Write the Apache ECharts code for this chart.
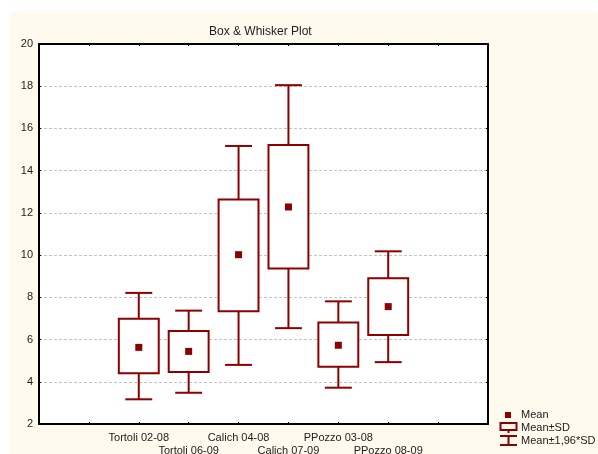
<!DOCTYPE html>
<html>
<head>
<meta charset="utf-8">
<script src="https://cdn.jsdelivr.net/npm/echarts@6/dist/echarts.min.js"></script>
<style>
  html, body { margin: 0; padding: 0; background: #ffffff; }
  #bg { position: absolute; left: 10px; top: 12px; width: 588px; height: 442px; background: #FFF9EE; }
  #chart { position: absolute; left: 0; top: 0; width: 598px; height: 454px; }
</style>
</head>
<body>
<div id="bg"></div>
<div id="chart"></div>
<script>
// ---- data ----
const categories = ['Tortoli 02-08', 'Tortoli 06-09', 'Calich 04-08', 'Calich 07-09', 'PPozzo 03-08', 'PPozzo 08-09'];
const means       = [5.63, 5.44, 10.02, 12.28, 5.73, 7.56];
const boxLow      = [4.40, 4.46, 7.34, 9.36, 4.71, 6.22];   // Mean - SD
const boxHigh     = [6.98, 6.41, 12.63, 15.21, 6.81, 8.90]; // Mean + SD
const whiskerLow  = [3.17, 3.48, 4.80, 6.54, 3.72, 4.93];   // Mean - 1.96*SD
const whiskerHigh = [8.21, 7.37, 15.17, 18.05, 7.81, 10.18];// Mean + 1.96*SD
const yTicks = [2, 4, 6, 8, 10, 12, 14, 16, 18, 20];
const titleText = 'Box & Whisker Plot';
const legendLabels = ['Mean', 'Mean±SD', 'Mean±1,96*SD'];

// axis slots: two empty slots before, two after (ticks at each slot)
const slots = ['', ''].concat(categories, ['', '']);
const offset = 2;

const COLOR = '#8B0000';
const FONT = 'Liberation Sans, Arial, sans-serif';

const boxData = categories.map((c, i) => [i + offset, whiskerLow[i], boxLow[i], means[i], boxHigh[i], whiskerHigh[i]]);
const meanData = categories.map((c, i) => [i + offset, means[i]]);

const chart = echarts.init(document.getElementById('chart'), null, { renderer: 'canvas' });

function renderBox(params, api) {
  const x = api.value(0);
  const wl = api.coord([x, api.value(1)]);
  const bl = api.coord([x, api.value(2)]);
  const bh = api.coord([x, api.value(4)]);
  const wh = api.coord([x, api.value(5)]);
  const slot = api.size([1, 0])[0];
  const bw = slot * 0.8;
  const cw = slot * 0.54;
  const cx = wl[0];
  const style = { stroke: COLOR, lineWidth: 2, fill: null };
  return {
    type: 'group',
    children: [
      { type: 'line', shape: { x1: cx, y1: wh[1], x2: cx, y2: bh[1] }, style: style },
      { type: 'line', shape: { x1: cx, y1: bl[1], x2: cx, y2: wl[1] }, style: style },
      { type: 'line', shape: { x1: cx - cw / 2, y1: wh[1], x2: cx + cw / 2, y2: wh[1] }, style: style },
      { type: 'line', shape: { x1: cx - cw / 2, y1: wl[1], x2: cx + cw / 2, y2: wl[1] }, style: style },
      { type: 'rect', shape: { x: cx - bw / 2, y: bh[1], width: bw, height: bl[1] - bh[1] },
        style: { stroke: COLOR, lineWidth: 2, fill: '#ffffff' } }
    ]
  };
}

const option = {
  backgroundColor: 'transparent',
  animation: false,
  title: {
    text: titleText,
    left: 204, top: 21,
    textStyle: { fontSize: 12, fontWeight: 'normal', color: '#222', fontFamily: FONT }
  },
  grid: {
    left: 39, right: 110, top: 44, bottom: 30,
    outerBoundsMode: 'none', containLabel: false,
    show: true, backgroundColor: '#ffffff', borderWidth: 0
  },
  xAxis: [{
    type: 'category',
    data: slots,
    boundaryGap: false,
    position: 'bottom',
    axisLine: { show: true, lineStyle: { color: '#000', width: 2 } },
    axisTick: { show: true, inside: true, length: 2, interval: 0, lineStyle: { color: '#000' } },
    axisLabel: {
      interval: 0, margin: 7, fontSize: 11, color: '#222', fontFamily: FONT, lineHeight: 13,
      formatter: function (v, idx) {
        if (!v) return '';
        return ((idx - offset) % 2 === 1) ? '\n' + v : v;
      }
    },
    splitLine: { show: false }
  }, {
    type: 'category',
    data: slots,
    boundaryGap: false,
    position: 'top',
    axisLine: { show: true, lineStyle: { color: '#000', width: 2 } },
    axisTick: { show: true, inside: true, length: 2, interval: 0, lineStyle: { color: '#000' } },
    axisLabel: { show: false },
    splitLine: { show: false }
  }],
  yAxis: [{
    type: 'value',
    min: yTicks[0], max: yTicks[yTicks.length - 1], interval: 2,
    position: 'left',
    axisLine: { show: true, lineStyle: { color: '#000', width: 2 } },
    axisTick: { show: true, inside: true, length: 2, lineStyle: { color: '#000' } },
    axisLabel: { margin: 6, fontSize: 11, color: '#222', fontFamily: FONT },
    splitLine: { show: true, lineStyle: { color: '#c4c4c4', type: [3, 2], width: 1 } }
  }, {
    type: 'value',
    min: yTicks[0], max: yTicks[yTicks.length - 1], interval: 2,
    position: 'right',
    axisLine: { show: true, lineStyle: { color: '#000', width: 2 } },
    axisTick: { show: true, inside: true, length: 2, lineStyle: { color: '#000' } },
    axisLabel: { show: false },
    splitLine: { show: false }
  }],
  series: [{
    type: 'custom',
    renderItem: renderBox,
    data: boxData,
    encode: { x: 0, y: [1, 2, 3, 4, 5] },
    z: 3
  }, {
    type: 'scatter',
    data: meanData,
    symbol: 'rect',
    symbolSize: 7,
    itemStyle: { color: COLOR, opacity: 1 },
    z: 4
  }],
  graphic: [
    { type: 'rect', shape: { x: 505, y: 412, width: 6, height: 6 }, style: { fill: COLOR } },
    { type: 'text', style: { x: 521, y: 415, text: legendLabels[0], fontSize: 11, fill: '#222', fontFamily: FONT, verticalAlign: 'middle' } },
    { type: 'rect', shape: { x: 500.5, y: 423, width: 16, height: 7 }, style: { stroke: COLOR, lineWidth: 2, fill: null } },
    { type: 'line', shape: { x1: 508.5, y1: 430, x2: 508.5, y2: 433 }, style: { stroke: COLOR, lineWidth: 2 } },
    { type: 'text', style: { x: 521, y: 428, text: legendLabels[1], fontSize: 11, fill: '#222', fontFamily: FONT, verticalAlign: 'middle' } },
    { type: 'line', shape: { x1: 500, y1: 436, x2: 517, y2: 436 }, style: { stroke: COLOR, lineWidth: 2 } },
    { type: 'line', shape: { x1: 508.5, y1: 436, x2: 508.5, y2: 445 }, style: { stroke: COLOR, lineWidth: 2 } },
    { type: 'line', shape: { x1: 500, y1: 445, x2: 517, y2: 445 }, style: { stroke: COLOR, lineWidth: 2 } },
    { type: 'text', style: { x: 521, y: 441, text: legendLabels[2], fontSize: 11, fill: '#222', fontFamily: FONT, verticalAlign: 'middle' } }
  ]
};
chart.setOption(option);
</script>
</body>
</html>
